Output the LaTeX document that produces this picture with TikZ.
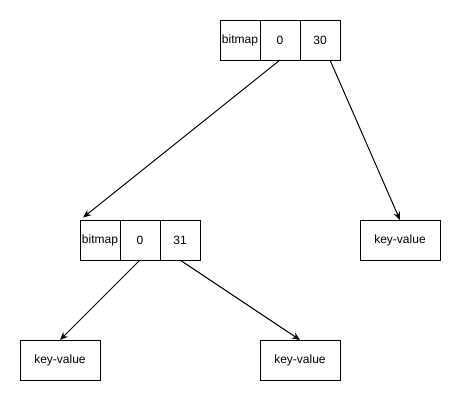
\documentclass[tikz,border=0pt]{standalone}
\usepackage{fontspec}
\setmainfont{Liberation Sans}
\usetikzlibrary{positioning, arrows.meta, calc}
\tikzset{>={Stealth[length=6pt, width=5pt]}}

\begin{document}
\begin{tikzpicture}[x=0.75pt, y=-0.75pt,
  cell/.style={draw, line width=0.75pt, minimum width=30pt, minimum height=30pt, inner sep=0pt, outer sep=0pt, font=\fontsize{9}{10}\selectfont},
  kv/.style={cell, minimum width=60pt},
  link/.style={->, line width=0.75pt}]
\useasboundingbox (0,0) rectangle (461,401);
\node[cell] (rbit) at (240,40) {bitmap};
\node[cell, right=0pt of rbit] (r0) {0};
\node[cell, right=0pt of r0] (r30) {30};
\node[cell] (cbit) at (100,240) {bitmap};
\node[cell, right=0pt of cbit] (c0) {0};
\node[cell, right=0pt of c0] (c31) {31};
\node[kv] (kvr) at (400,240) {key-value};
\node[kv] (kvl) at (60,360) {key-value};
\node[kv] (kvm) at (300,360) {key-value};
\coordinate (r30out) at ($(r30.south)!0.5!(r30.south east)$);
\draw[link, shorten >=3pt] (r0.south) -- (cbit.north west);
\draw[link] (r30out) -- (kvr.north);
\draw[link] (c0.south) -- (kvl.north);
\draw[link] (c31.south) -- (kvm.north);
\end{tikzpicture}
\end{document}
